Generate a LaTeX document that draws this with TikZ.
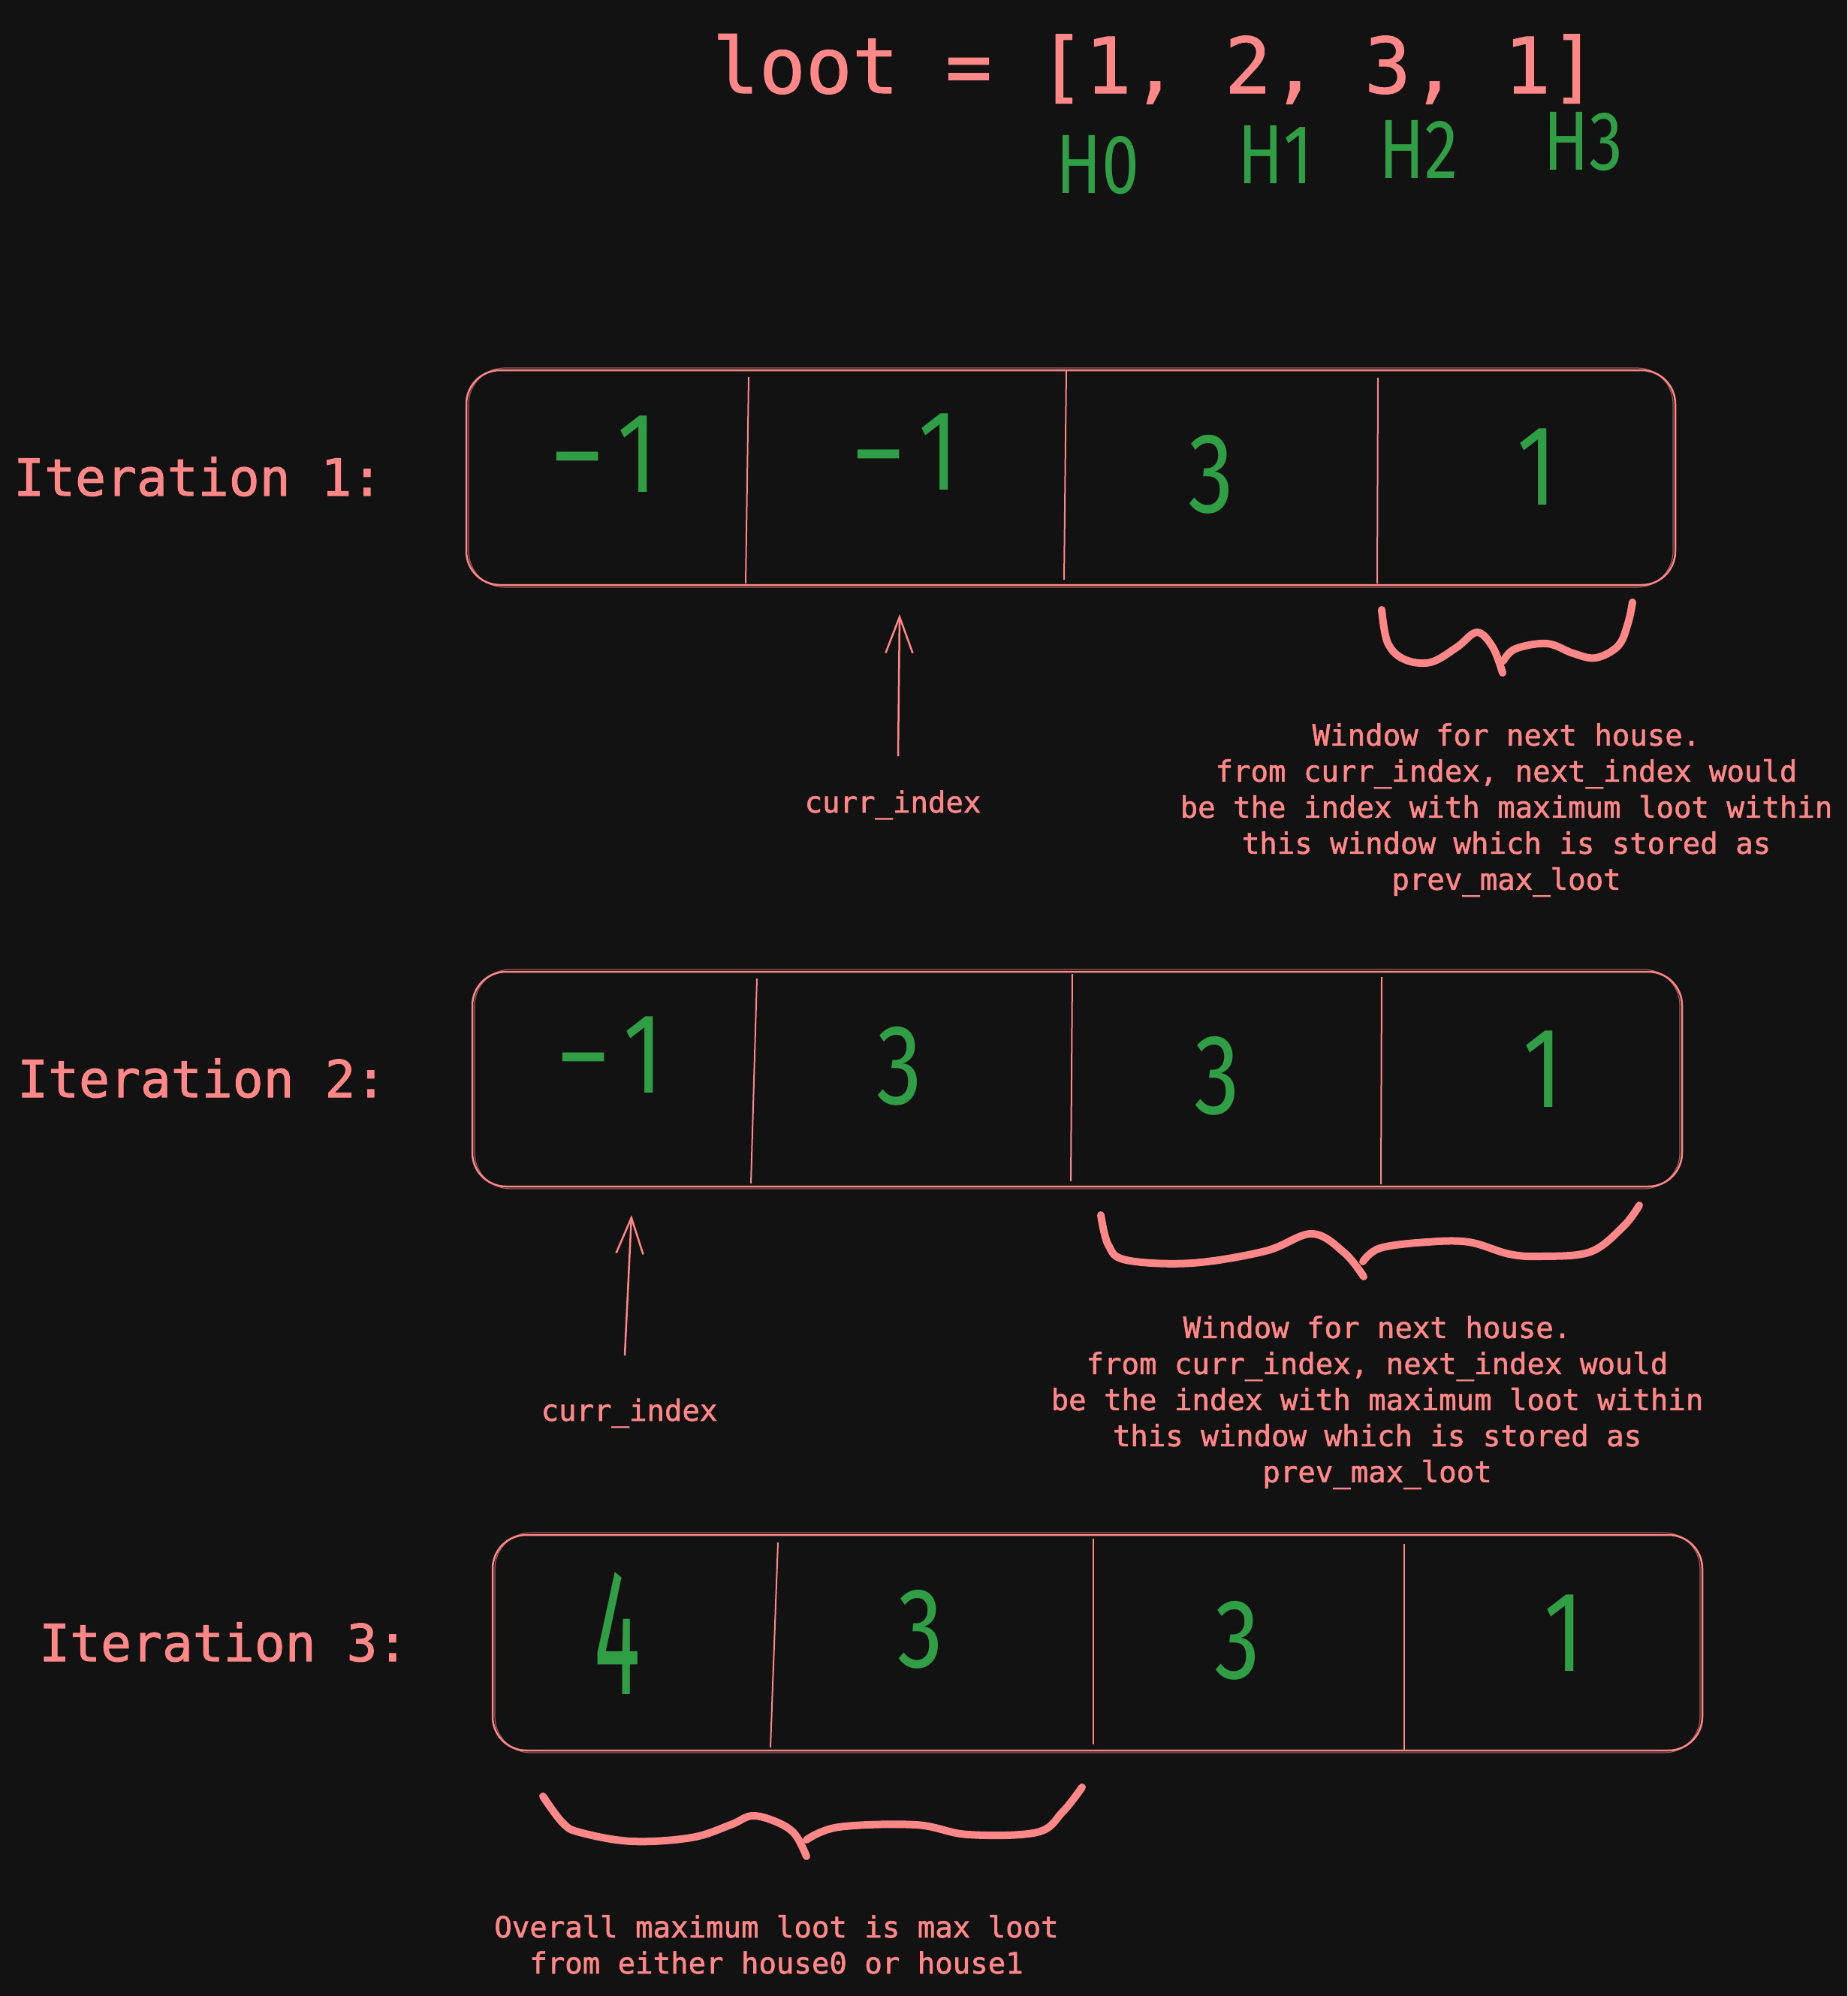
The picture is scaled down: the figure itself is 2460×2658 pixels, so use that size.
\documentclass[tikz,border=0pt]{standalone}
\usepackage{fontspec}
\setmonofont{DejaVu Sans Mono}
\newfontfamily\monomed[FakeBold=1.5]{DejaVu Sans Mono}
\newfontfamily\monotitle[FakeBold=1]{DejaVu Sans Mono}
\newfontfamily\hand[FakeStretch=0.8]{Fira Sans}
\usetikzlibrary{arrows.meta}
\definecolor{bg}{HTML}{121212}
\definecolor{pk}{HTML}{FF8787}
\definecolor{gr}{HTML}{2F9E44}
\tikzset{
  box/.style={draw=pk, line width=2.5pt, rounded corners=45pt},
  boxb/.style={draw=pk, line width=1.2pt, rounded corners=48pt, opacity=0.6},
  divl/.style={draw=pk, line width=2pt},
  digit/.style={text=gr, font=\hand\fontsize{152}{152}\selectfont, inner sep=0pt},
  hlab/.style={text=gr, font=\hand\fontsize{112}{112}\selectfont, inner sep=0pt},
  iter/.style={text=pk, font=\monomed\fontsize{68}{68}\selectfont, anchor=base west, inner sep=0pt},
  note/.style={text=pk, font=\monomed\fontsize{39}{48}\selectfont, align=center, inner sep=0pt},
  brace/.style={draw=pk, line width=10pt, line cap=round, line join=round},
  ptr/.style={draw=pk, line width=2.5pt, -{Straight Barb[length=48pt,width=36pt]}}
}
\newcommand{\negone}{–\kern22pt 1}
\begin{document}
\begin{tikzpicture}[x=1pt,y=-1pt]
\fill[bg] (0,0) rectangle (2460,2658);
\useasboundingbox (0,0) rectangle (2460,2658);

% title
\node[text=pk, font=\monotitle\fontsize{103}{103}\selectfont, anchor=base, inner sep=0pt] (title) at (1538,124) {loot = [1, 2, 3, 1]};
\node[hlab] (h0) at (1462,220) {H0};
\node[hlab] (h1) at (1698,206) {H1};
\node[hlab] (h2) at (1889,199) {H2};
\node[hlab] (h3) at (2108,189) {H3};

% iteration labels
\node[iter] (it1) at (18,660) {Iteration 1:};
\node[iter] (it2) at (23,1461) {Iteration 2:};
\node[iter] (it3) at (52,2212) {Iteration 3:};

% box 1
\draw[box] (621,493) rectangle (2231,779);
\draw[boxb] (624,490) rectangle (2228,782);
\draw[divl] (997,502) -- (993,777);
\draw[divl] (1420,493) -- (1417,772);
\draw[divl] (1835,503) -- (1834,777);
\node[digit] (a1) at (806,605) {\negone};
\node[digit] (a2) at (1207,602) {\negone};
\node[digit] (a3) at (1613,632) {3};
\node[digit] (a4) at (2047,622) {1};

% box 2
\draw[box] (629,1294) rectangle (2240,1580);
\draw[boxb] (632,1291) rectangle (2237,1583);
\draw[divl] (1008,1303) -- (1000,1576);
\draw[divl] (1428,1297) -- (1426,1573);
\draw[divl] (1840,1301) -- (1839,1577);
\node[digit] (b1) at (814,1405) {\negone};
\node[digit] (b2) at (1198,1420) {3};
\node[digit] (b3) at (1621,1433) {3};
\node[digit] (b4) at (2055,1424) {1};

% box 3
\draw[box] (656,2044) rectangle (2267,2331);
\draw[boxb] (659,2041) rectangle (2264,2334);
\draw[divl] (1036,2054) -- (1026,2327);
\draw[divl] (1456,2049) -- (1456,2323);
\draw[divl] (1870,2056) -- (1870,2330);
\node[digit, font=\hand\fontsize{240}{240}\selectfont] (c1) at (822,2175) {\scalebox{0.6}[1]{4}};
\node[digit] (c2) at (1226,2170) {3};
\node[digit] (c3) at (1648,2185) {3};
\node[digit] (c4) at (2083,2175) {1};

% pointers
\node[note, anchor=base] (ci1) at (1189,1082) {curr\_index};
\coordinate (p1a) at (1196,1007);
\coordinate (p1b) at (1198,818);
\draw[ptr] (p1a) -- (p1b);

\node[note, anchor=base] (ci2) at (838,1892) {curr\_index};
\coordinate (p2a) at (832,1805);
\coordinate (p2b) at (841,1618);
\draw[ptr] (p2a) -- (p2b);

% braces
\draw[brace] plot[smooth, tension=0.6] coordinates {(1840,812) (1848,856) (1870,878) (1905,882) (1940,862) (1967,842) (1988,862) (2001,896)};
\draw[brace] plot[smooth, tension=0.6] coordinates {(2002,880) (2018,864) (2060,857) (2095,870) (2125,876) (2155,860) (2168,830) (2174,802)};

\draw[brace] plot[smooth, tension=0.6] coordinates {(1466,1618) (1476,1658) (1500,1678) (1587,1682) (1685,1666) (1747,1643) (1790,1668) (1816,1700)};
\draw[brace] plot[smooth, tension=0.6] coordinates {(1815,1680) (1838,1662) (1900,1654) (1956,1654) (2010,1670) (2053,1673) (2118,1667) (2162,1633) (2183,1605)};

\draw[brace] plot[smooth, tension=0.6] coordinates {(723,2392) (749,2427) (772,2440) (841,2452) (921,2447) (973,2430) (1002,2418) (1036,2427) (1059,2443) (1074,2472)};
\draw[brace] plot[smooth, tension=0.6] coordinates {(1074,2450) (1117,2433) (1220,2430) (1289,2443) (1381,2440) (1415,2413) (1441,2380)};

% notes
\node[note, anchor=north] (n1) at (2006,963) {Window for next house.\\from curr\_index, next\_index would\\be the index with maximum loot within\\this window which is stored as\\prev\_max\_loot};
\node[note, anchor=north] (n2) at (1834,1752) {Window for next house.\\from curr\_index, next\_index would\\be the index with maximum loot within\\this window which is stored as\\prev\_max\_loot};
\node[note, anchor=north] (n3) at (1034,2550) {Overall maximum loot is max loot\\from either house0 or house1};
\end{tikzpicture}
\end{document}
